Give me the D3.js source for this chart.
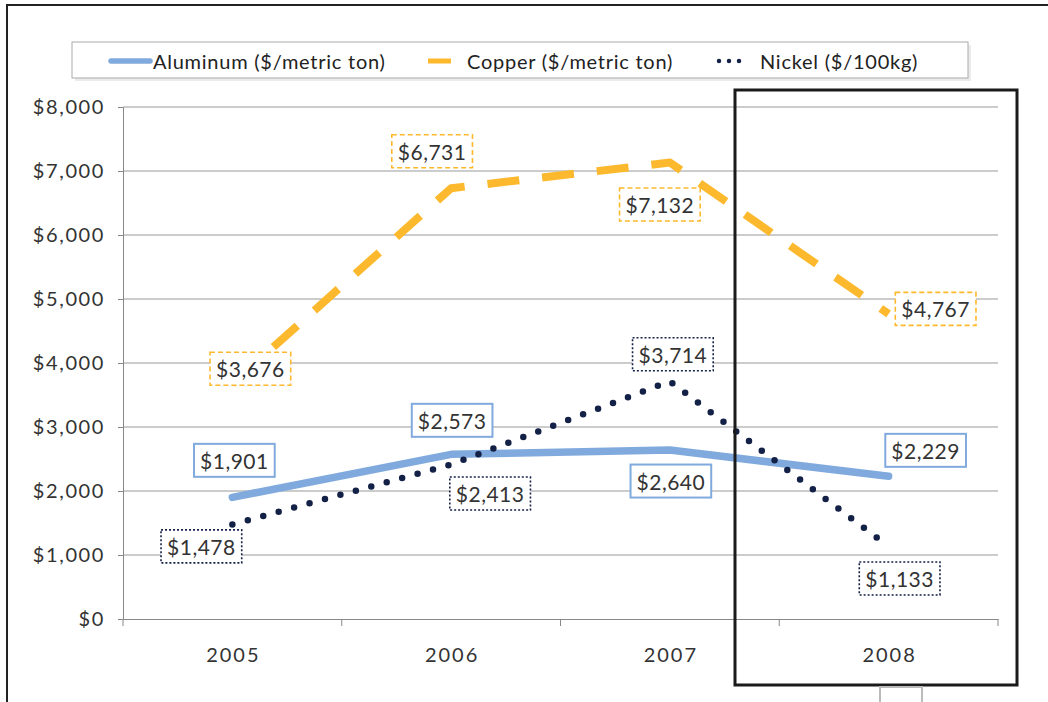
<!DOCTYPE html>
<html><head><meta charset="utf-8">
<script src="https://cdn.jsdelivr.net/npm/d3@7"></script>
<style>body{margin:0;background:#fff}svg{display:block}text{font-family:"Lato","Open Sans",sans-serif}</style>
</head><body><svg id="c" width="1048" height="702"></svg>
<script>
const categories = ["2005","2006","2007","2008"];
const aluminum = [1901, 2573, 2640, 2229];
const copper = [3676, 6731, 7132, 4767];
const nickel = [1478, 2413, 3714, 1133];
const yTicks = [0,1000,2000,3000,4000,5000,6000,7000,8000];
const seriesNames = ["Aluminum ($/metric ton)","Copper ($/metric ton)","Nickel ($/100kg)"];

// label offsets (layout only)
const labelOffsets = [
  [[2,-37],[1,-34],[1,31],[37,-26]],
  [[18,-15],[-19,-37],[-10,42],[47,-5]],
  [[-31,22],[39,29],[3,-27],[11,32]]
];

const svg = d3.select("#c");
const x = d3.scaleBand().domain(categories).range([123, 998]);
const y = d3.scaleLinear().domain([0, 8000]).range([619, 107]);
const fmt = d3.format("$,");

// outer frame
svg.append("path").attr("d","M7,702 V5 H1048").attr("fill","none").attr("stroke","#222").attr("stroke-width",2);

// gridlines
svg.append("g").selectAll("line").data(yTicks.filter(d=>d>0)).join("line")
  .attr("x1",123).attr("x2",998).attr("y1",d=>y(d)).attr("y2",d=>y(d))
  .attr("stroke","#999").attr("stroke-width",1);

// y axis
const yAxis = svg.append("g").attr("transform","translate(123,0)")
  .call(d3.axisLeft(y).tickValues(yTicks).tickFormat(fmt).tickSize(5).tickPadding(13));
yAxis.select(".domain").attr("stroke","#888");
yAxis.selectAll(".tick line").attr("stroke","#888");
yAxis.selectAll("text").attr("font-size",20).attr("fill","#333").attr("font-family","Lato")
  .attr("letter-spacing","1.6px");

// x axis
const xAxis = svg.append("g").attr("transform","translate(0,619)")
  .call(d3.axisBottom(x).tickSize(0).tickPadding(29));
xAxis.select(".domain").attr("stroke","#888");
xAxis.selectAll("text").attr("font-size",20).attr("fill","#333").attr("font-family","Lato")
  .attr("letter-spacing","2px").attr("dx","1px");
svg.append("g").selectAll("line").data([...categories.map(c=>x(c)), x.range()[1]]).join("line")
  .attr("x1",d=>d).attr("x2",d=>d).attr("y1",619).attr("y2",626).attr("stroke","#888");

const cx = c => x(c) + x.bandwidth()/2;
const line = d3.line().x((d,i)=>cx(categories[i])).y(d=>y(d));

const styles = [
  {color:"#80aadd", width:7.5, dash:null, cap:"round", boxDash:null},
  {color:"#fdb92d", width:8, dash:"32,23", cap:"butt", boxDash:"5,3"},
  {color:"#142147", width:6.5, dash:"0,16", cap:"round", boxDash:"2,2"}
];
const data = [aluminum, copper, nickel];

data.forEach((s,k)=>{
  const st = styles[k];
  const p = svg.append("path").datum(s).attr("d", line).attr("fill","none")
    .attr("stroke", st.color).attr("stroke-width", st.width).attr("stroke-linecap", st.cap)
    .attr("stroke-linejoin","round");
  if (st.dash) p.attr("stroke-dasharray", st.dash);
});

// labels
data.forEach((s,k)=>{
  const st = styles[k];
  s.forEach((v,i)=>{
    const px = cx(categories[i]) + labelOffsets[k][i][0];
    const py = y(v) + labelOffsets[k][i][1];
    const g = svg.append("g");
    const t = g.append("text").attr("x",px).attr("y",py).attr("text-anchor","middle")
      .attr("dominant-baseline","central").attr("font-size",21).attr("fill","#333")
      .attr("letter-spacing","0.5px").text(fmt(v));
    const bb = t.node().getBBox();
    const r = g.insert("rect","text").attr("x",bb.x-6).attr("y",py-16.5).attr("width",bb.width+12).attr("height",33)
      .attr("fill","#fff").attr("stroke",st.color).attr("stroke-width", k===0?2:1.6);
    if (st.boxDash) r.attr("stroke-dasharray", st.boxDash);
  });
});

// legend
svg.append("rect").attr("x",75).attr("y",45).attr("width",896).attr("height",36).attr("fill","#ddd").attr("opacity",0.6);
svg.append("rect").attr("x",72).attr("y",42).attr("width",896).attr("height",36).attr("fill","#fff").attr("stroke","#aaa").attr("stroke-width",1);
const legY = 61;
svg.append("line").attr("x1",111).attr("x2",150).attr("y1",legY).attr("y2",legY)
  .attr("stroke",styles[0].color).attr("stroke-width",5.5).attr("stroke-linecap","round");
svg.append("line").attr("x1",428).attr("x2",451).attr("y1",legY).attr("y2",legY)
  .attr("stroke",styles[1].color).attr("stroke-width",5);
svg.append("line").attr("x1",719).attr("x2",745).attr("y1",legY).attr("y2",legY)
  .attr("stroke",styles[2].color).attr("stroke-width",4.5).attr("stroke-linecap","round").attr("stroke-dasharray","0,10");
const legX = [153, 467, 760];
seriesNames.forEach((n,i)=>{
  svg.append("text").attr("x",legX[i]).attr("y",legY).attr("dominant-baseline","central")
    .attr("font-size",20).attr("fill","#222").attr("letter-spacing","0.75px").text(n);
});

// highlight rectangle
svg.append("rect").attr("x",735).attr("y",90).attr("width",282).attr("height",595)
  .attr("fill","none").attr("stroke","#1a1a1a").attr("stroke-width",3);
// small gray square at bottom
svg.append("rect").attr("x",880).attr("y",687).attr("width",42).attr("height",20)
  .attr("fill","none").attr("stroke","#bbb").attr("stroke-width",2);
</script></body></html>
